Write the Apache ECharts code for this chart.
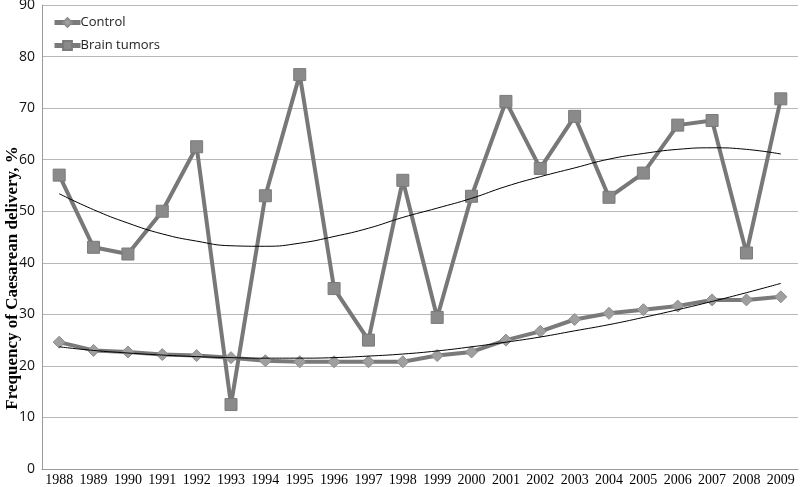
<!DOCTYPE html>
<html><head><meta charset="utf-8">
<script src="https://cdn.jsdelivr.net/npm/echarts@6/dist/echarts.min.js"></script>
<style>html,body{margin:0;padding:0;background:#fff}#c{width:800px;height:487px}</style>
</head><body><div id="c"></div>
<script>
const years = ['1988','1989','1990','1991','1992','1993','1994','1995','1996','1997','1998','1999','2000','2001','2002','2003','2004','2005','2006','2007','2008','2009'];
const control = [24.6,23.0,22.7,22.2,22.0,21.6,21.0,20.8,20.8,20.8,20.8,22.0,22.7,25.0,26.7,29.0,30.2,30.9,31.6,32.8,32.8,33.4];
const brainTumors = [57.0,43.0,41.7,50.0,62.5,12.5,53.0,76.5,35.0,25.0,56.0,29.4,52.9,71.3,58.3,68.4,52.7,57.4,66.7,67.6,41.9,71.8];
const controlTrend = [23.7,23.0,22.5,22.1,21.8,21.6,21.5,21.5,21.6,21.9,22.3,22.9,23.7,24.6,25.6,26.8,28.0,29.4,30.9,32.5,34.2,36.0];
const brainTrend = [53.4,50.3,47.7,45.6,44.2,43.3,43.2,43.8,45.1,46.7,48.8,50.6,52.5,54.8,56.7,58.4,60.1,61.2,62.0,62.3,62.0,61.1];
const yTicks = {min:0, max:90, interval:10};

const chart = echarts.init(document.getElementById('c'));
chart.setOption({
  animation:false,
  backgroundColor:'#fff',
  grid:{left:42,right:2,top:5,bottom:18,containLabel:false,outerBoundsMode:'none'},
  legend:{
    data:['Control','Brain tumors'],
    orient:'vertical', left:47, top:11, itemGap:10,
    itemWidth:26, itemHeight:11,
    lineStyle:{width:5,color:'#7a7a7a'},
    textStyle:{fontFamily:'Open Sans',fontSize:13,color:'#222',padding:[0,0,0,-5]}
  },
  xAxis:{
    type:'category', data:years, boundaryGap:true,
    axisLine:{lineStyle:{color:'#9a9a9a',width:1}},
    axisTick:{show:false},
    axisLabel:{interval:0,fontFamily:'Liberation Serif',fontSize:14,color:'#000',margin:4}
  },
  yAxis:{
    type:'value', min:yTicks.min, max:yTicks.max, interval:yTicks.interval,
    name:'Frequency of Caesarean delivery, %', nameLocation:'middle', nameGap:21, nameMoveOverlap:false,
    nameTextStyle:{fontFamily:'Liberation Serif',fontWeight:'bold',fontSize:17,color:'#000',padding:[0,82,0,0]},
    axisLine:{show:true,lineStyle:{color:'#9a9a9a',width:1}},
    axisTick:{show:false},
    splitLine:{lineStyle:{color:'#b8b8b8',width:1}},
    axisLabel:{fontFamily:'Open Sans',fontSize:14,color:'#111',margin:7}
  },
  series:[
    {name:'Control',type:'line',data:control,symbol:'diamond',symbolSize:12,color:'#9f9f9f',
     lineStyle:{color:'#7a7a7a',width:4},itemStyle:{color:'#9f9f9f',borderColor:'#8c8c8c',borderWidth:1},z:3},
    {name:'Brain tumors',type:'line',data:brainTumors,symbol:'rect',symbolSize:12,color:'#8a8a8a',
     lineStyle:{color:'#787878',width:4},itemStyle:{color:'#8a8a8a',borderColor:'#7a7a7a',borderWidth:1},z:3},
    {name:'Control trend',type:'line',data:controlTrend,smooth:true,symbol:'none',
     lineStyle:{color:'#000',width:1},z:4,silent:true},
    {name:'Brain trend',type:'line',data:brainTrend,smooth:true,symbol:'none',
     lineStyle:{color:'#000',width:1},z:4,silent:true}
  ]
});
</script></body></html>
